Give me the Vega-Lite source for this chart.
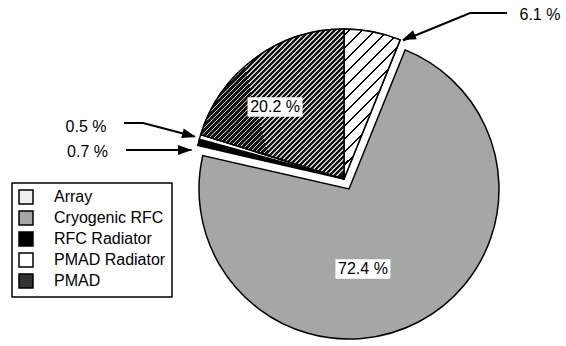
{
  "$schema": "https://vega.github.io/schema/vega-lite/v6.json",
  "width": 300,
  "height": 300,
  "autosize": {"type": "none"},
  "padding": {"left": 199, "top": 39, "right": 67, "bottom": 7},
  "background": "white",
  "config": {
    "view": {"stroke": null},
    "font": "Liberation Sans",
    "legend": {
      "strokeColor": "black",
      "strokeWidth": 1.5,
      "padding": 6,
      "fillColor": "white",
      "symbolType": "square",
      "symbolSize": 196,
      "symbolStrokeColor": "black",
      "symbolStrokeWidth": 1.5,
      "labelFont": "Liberation Sans",
      "labelFontSize": 16,
      "labelColor": "black",
      "labelOffset": 20,
      "rowPadding": 1,
      "labelLimit": 300
    }
  },
  "datasets": {
    "slices": [
      {"category": "Array", "value": 6.1, "order": 1, "group": "exploded"},
      {"category": "Cryogenic RFC", "value": 72.4, "order": 2, "group": "main"},
      {"category": "RFC Radiator", "value": 0.7, "order": 3, "group": "exploded"},
      {"category": "PMAD Radiator", "value": 0.5, "order": 4, "group": "exploded"},
      {"category": "PMAD", "value": 20.2, "order": 5, "group": "exploded"}
    ],
    "arrows": [
      {"label": "6.1 %", "step": 1, "x": 1.053, "y": 1.173},
      {"label": "6.1 %", "step": 2, "x": 0.807, "y": 1.173},
      {"label": "6.1 %", "step": 3, "x": 0.36, "y": 0.99},
      {"label": "0.5 %", "step": 1, "x": -1.5, "y": 0.44},
      {"label": "0.5 %", "step": 2, "x": -1.373, "y": 0.44},
      {"label": "0.5 %", "step": 3, "x": -1.03, "y": 0.35},
      {"label": "0.7 %", "step": 1, "x": -1.487, "y": 0.26},
      {"label": "0.7 %", "step": 2, "x": -1.05, "y": 0.26}
    ],
    "tips": [
      {"label": "6.1 %", "x": 0.353, "y": 0.993},
      {"label": "0.5 %", "x": -1.02, "y": 0.347},
      {"label": "0.7 %", "x": -1.047, "y": 0.26}
    ],
    "labels": [
      {"label": "6.1 %", "x": 1.273, "y": 1.16},
      {"label": "0.5 %", "x": -1.753, "y": 0.413},
      {"label": "0.7 %", "x": -1.743, "y": 0.247},
      {"label": "72.4 %", "x": 0.093, "y": -0.533},
      {"label": "20.2 %", "x": -0.493, "y": 0.547}
    ]
  },
  "layer": [
    {
      "data": {"name": "slices"},
      "transform": [
        {"stack": "value", "groupby": [], "sort": [{"field": "order", "order": "ascending"}], "as": ["v0", "v1"]}
      ],
      "layer": [
        {
          "transform": [{"filter": "datum.group === 'main'"}],
          "mark": {"type": "arc", "outerRadius": 150, "stroke": "black", "strokeWidth": 1.5},
          "encoding": {
            "theta": {"field": "v0", "type": "quantitative", "stack": null, "scale": {"domain": [0, 99.9]}},
            "theta2": {"field": "v1"},
            "color": {
              "field": "category",
              "type": "nominal",
              "scale": {
                "domain": ["Array", "Cryogenic RFC", "RFC Radiator", "PMAD Radiator", "PMAD"],
                "range": ["#eeeeee", "#a6a6a6", "#000000", "#ffffff", "#333333"]
              },
              "legend": {"title": null, "orient": "none", "legendX": -187, "legendY": 144}
            }
          }
        },
        {
          "transform": [{"filter": "datum.group === 'exploded'"}],
          "mark": {"type": "arc", "outerRadius": 150, "stroke": "black", "strokeWidth": 1.5, "xOffset": -5, "yOffset": -10},
          "encoding": {
            "theta": {"field": "v0", "type": "quantitative", "stack": null, "scale": {"domain": [0, 99.9]}},
            "theta2": {"field": "v1"},
            "color": {
              "field": "category",
              "type": "nominal",
              "scale": {
                "domain": ["Array", "Cryogenic RFC", "RFC Radiator", "PMAD Radiator", "PMAD"],
                "range": ["#eeeeee", "#a6a6a6", "#000000", "#ffffff", "#333333"]
              },
              "legend": {"title": null, "orient": "none", "legendX": -187, "legendY": 144}
            }
          }
        },
        {
          "transform": [{"filter": "datum.category === 'Array'"}],
          "mark": {
            "type": "arc", "outerRadius": 150, "stroke": "black", "strokeWidth": 1.5, "xOffset": -5, "yOffset": -10,
            "fill": {
              "gradient": "linear", "x1": 0, "y1": 0, "x2": 0.373, "y2": 1,
              "stops": [
                {"offset": 0, "color": "white"},
                {"offset": 0.03, "color": "white"}, {"offset": 0.03, "color": "black"}, {"offset": 0.046, "color": "black"}, {"offset": 0.046, "color": "white"},
                {"offset": 0.106, "color": "white"}, {"offset": 0.106, "color": "black"}, {"offset": 0.122, "color": "black"}, {"offset": 0.122, "color": "white"},
                {"offset": 0.182, "color": "white"}, {"offset": 0.182, "color": "black"}, {"offset": 0.198, "color": "black"}, {"offset": 0.198, "color": "white"},
                {"offset": 0.258, "color": "white"}, {"offset": 0.258, "color": "black"}, {"offset": 0.274, "color": "black"}, {"offset": 0.274, "color": "white"},
                {"offset": 0.334, "color": "white"}, {"offset": 0.334, "color": "black"}, {"offset": 0.35, "color": "black"}, {"offset": 0.35, "color": "white"},
                {"offset": 0.41, "color": "white"}, {"offset": 0.41, "color": "black"}, {"offset": 0.426, "color": "black"}, {"offset": 0.426, "color": "white"},
                {"offset": 0.486, "color": "white"}, {"offset": 0.486, "color": "black"}, {"offset": 0.502, "color": "black"}, {"offset": 0.502, "color": "white"},
                {"offset": 0.562, "color": "white"}, {"offset": 0.562, "color": "black"}, {"offset": 0.578, "color": "black"}, {"offset": 0.578, "color": "white"},
                {"offset": 0.638, "color": "white"}, {"offset": 0.638, "color": "black"}, {"offset": 0.654, "color": "black"}, {"offset": 0.654, "color": "white"},
                {"offset": 0.714, "color": "white"}, {"offset": 0.714, "color": "black"}, {"offset": 0.73, "color": "black"}, {"offset": 0.73, "color": "white"},
                {"offset": 0.79, "color": "white"}, {"offset": 0.79, "color": "black"}, {"offset": 0.806, "color": "black"}, {"offset": 0.806, "color": "white"},
                {"offset": 0.866, "color": "white"}, {"offset": 0.866, "color": "black"}, {"offset": 0.882, "color": "black"}, {"offset": 0.882, "color": "white"},
                {"offset": 0.942, "color": "white"}, {"offset": 0.942, "color": "black"}, {"offset": 0.958, "color": "black"}, {"offset": 0.958, "color": "white"},
                {"offset": 1, "color": "white"}
              ]
            }
          },
          "encoding": {
            "theta": {"field": "v0", "type": "quantitative", "stack": null, "scale": {"domain": [0, 99.9]}},
            "theta2": {"field": "v1"}
          }
        },
        {
          "transform": [{"filter": "datum.category === 'PMAD'"}],
          "mark": {
            "type": "arc", "outerRadius": 150, "stroke": "black", "strokeWidth": 1.5, "xOffset": -5, "yOffset": -10,
            "fill": {
              "gradient": "linear", "x1": 0, "y1": 0, "x2": 0.95, "y2": 1,
              "stops": [
                {"offset": 0, "color": "#111111"},
                {"offset": 0.005, "color": "#111111"}, {"offset": 0.005, "color": "#c8c8c8"}, {"offset": 0.011, "color": "#c8c8c8"}, {"offset": 0.011, "color": "#111111"},
                {"offset": 0.0225, "color": "#111111"}, {"offset": 0.0225, "color": "#c8c8c8"}, {"offset": 0.0285, "color": "#c8c8c8"}, {"offset": 0.0285, "color": "#111111"},
                {"offset": 0.04, "color": "#111111"}, {"offset": 0.04, "color": "#c8c8c8"}, {"offset": 0.046, "color": "#c8c8c8"}, {"offset": 0.046, "color": "#111111"},
                {"offset": 0.0575, "color": "#111111"}, {"offset": 0.0575, "color": "#c8c8c8"}, {"offset": 0.0635, "color": "#c8c8c8"}, {"offset": 0.0635, "color": "#111111"},
                {"offset": 0.075, "color": "#111111"}, {"offset": 0.075, "color": "#c8c8c8"}, {"offset": 0.081, "color": "#c8c8c8"}, {"offset": 0.081, "color": "#111111"},
                {"offset": 0.0925, "color": "#111111"}, {"offset": 0.0925, "color": "#c8c8c8"}, {"offset": 0.0985, "color": "#c8c8c8"}, {"offset": 0.0985, "color": "#111111"},
                {"offset": 0.11, "color": "#111111"}, {"offset": 0.11, "color": "#c8c8c8"}, {"offset": 0.116, "color": "#c8c8c8"}, {"offset": 0.116, "color": "#111111"},
                {"offset": 0.1275, "color": "#111111"}, {"offset": 0.1275, "color": "#c8c8c8"}, {"offset": 0.1335, "color": "#c8c8c8"}, {"offset": 0.1335, "color": "#111111"},
                {"offset": 0.145, "color": "#111111"}, {"offset": 0.145, "color": "#c8c8c8"}, {"offset": 0.151, "color": "#c8c8c8"}, {"offset": 0.151, "color": "#111111"},
                {"offset": 0.1625, "color": "#111111"}, {"offset": 0.1625, "color": "#c8c8c8"}, {"offset": 0.1685, "color": "#c8c8c8"}, {"offset": 0.1685, "color": "#111111"},
                {"offset": 0.18, "color": "#111111"}, {"offset": 0.18, "color": "#c8c8c8"}, {"offset": 0.186, "color": "#c8c8c8"}, {"offset": 0.186, "color": "#111111"},
                {"offset": 0.1975, "color": "#111111"}, {"offset": 0.1975, "color": "#c8c8c8"}, {"offset": 0.2035, "color": "#c8c8c8"}, {"offset": 0.2035, "color": "#111111"},
                {"offset": 0.215, "color": "#111111"}, {"offset": 0.215, "color": "#c8c8c8"}, {"offset": 0.221, "color": "#c8c8c8"}, {"offset": 0.221, "color": "#111111"},
                {"offset": 0.2325, "color": "#111111"}, {"offset": 0.2325, "color": "#c8c8c8"}, {"offset": 0.2385, "color": "#c8c8c8"}, {"offset": 0.2385, "color": "#111111"},
                {"offset": 0.25, "color": "#111111"}, {"offset": 0.25, "color": "#c8c8c8"}, {"offset": 0.256, "color": "#c8c8c8"}, {"offset": 0.256, "color": "#111111"},
                {"offset": 0.2675, "color": "#111111"}, {"offset": 0.2675, "color": "#c8c8c8"}, {"offset": 0.2735, "color": "#c8c8c8"}, {"offset": 0.2735, "color": "#111111"},
                {"offset": 0.285, "color": "#111111"}, {"offset": 0.285, "color": "#c8c8c8"}, {"offset": 0.291, "color": "#c8c8c8"}, {"offset": 0.291, "color": "#111111"},
                {"offset": 0.3025, "color": "#111111"}, {"offset": 0.3025, "color": "#c8c8c8"}, {"offset": 0.3085, "color": "#c8c8c8"}, {"offset": 0.3085, "color": "#111111"},
                {"offset": 0.32, "color": "#111111"}, {"offset": 0.32, "color": "#c8c8c8"}, {"offset": 0.326, "color": "#c8c8c8"}, {"offset": 0.326, "color": "#111111"},
                {"offset": 0.3375, "color": "#111111"}, {"offset": 0.3375, "color": "#c8c8c8"}, {"offset": 0.3435, "color": "#c8c8c8"}, {"offset": 0.3435, "color": "#111111"},
                {"offset": 0.355, "color": "#111111"}, {"offset": 0.355, "color": "#c8c8c8"}, {"offset": 0.361, "color": "#c8c8c8"}, {"offset": 0.361, "color": "#111111"},
                {"offset": 0.3725, "color": "#111111"}, {"offset": 0.3725, "color": "#c8c8c8"}, {"offset": 0.3785, "color": "#c8c8c8"}, {"offset": 0.3785, "color": "#111111"},
                {"offset": 0.39, "color": "#111111"}, {"offset": 0.39, "color": "#c8c8c8"}, {"offset": 0.396, "color": "#c8c8c8"}, {"offset": 0.396, "color": "#111111"},
                {"offset": 0.4075, "color": "#111111"}, {"offset": 0.4075, "color": "#c8c8c8"}, {"offset": 0.4135, "color": "#c8c8c8"}, {"offset": 0.4135, "color": "#111111"},
                {"offset": 0.425, "color": "#111111"}, {"offset": 0.425, "color": "#c8c8c8"}, {"offset": 0.431, "color": "#c8c8c8"}, {"offset": 0.431, "color": "#111111"},
                {"offset": 0.4425, "color": "#111111"}, {"offset": 0.4425, "color": "#c8c8c8"}, {"offset": 0.4485, "color": "#c8c8c8"}, {"offset": 0.4485, "color": "#111111"},
                {"offset": 0.46, "color": "#111111"}, {"offset": 0.46, "color": "#c8c8c8"}, {"offset": 0.466, "color": "#c8c8c8"}, {"offset": 0.466, "color": "#111111"},
                {"offset": 0.4775, "color": "#111111"}, {"offset": 0.4775, "color": "#c8c8c8"}, {"offset": 0.4835, "color": "#c8c8c8"}, {"offset": 0.4835, "color": "#111111"},
                {"offset": 0.495, "color": "#111111"}, {"offset": 0.495, "color": "#c8c8c8"}, {"offset": 0.501, "color": "#c8c8c8"}, {"offset": 0.501, "color": "#111111"},
                {"offset": 0.5125, "color": "#111111"}, {"offset": 0.5125, "color": "#c8c8c8"}, {"offset": 0.5185, "color": "#c8c8c8"}, {"offset": 0.5185, "color": "#111111"},
                {"offset": 0.53, "color": "#111111"}, {"offset": 0.53, "color": "#c8c8c8"}, {"offset": 0.536, "color": "#c8c8c8"}, {"offset": 0.536, "color": "#111111"},
                {"offset": 0.5475, "color": "#111111"}, {"offset": 0.5475, "color": "#c8c8c8"}, {"offset": 0.5535, "color": "#c8c8c8"}, {"offset": 0.5535, "color": "#111111"},
                {"offset": 0.565, "color": "#111111"}, {"offset": 0.565, "color": "#c8c8c8"}, {"offset": 0.571, "color": "#c8c8c8"}, {"offset": 0.571, "color": "#111111"},
                {"offset": 0.5825, "color": "#111111"}, {"offset": 0.5825, "color": "#c8c8c8"}, {"offset": 0.5885, "color": "#c8c8c8"}, {"offset": 0.5885, "color": "#111111"},
                {"offset": 0.6, "color": "#111111"}, {"offset": 0.6, "color": "#c8c8c8"}, {"offset": 0.606, "color": "#c8c8c8"}, {"offset": 0.606, "color": "#111111"},
                {"offset": 0.6175, "color": "#111111"}, {"offset": 0.6175, "color": "#c8c8c8"}, {"offset": 0.6235, "color": "#c8c8c8"}, {"offset": 0.6235, "color": "#111111"},
                {"offset": 0.635, "color": "#111111"}, {"offset": 0.635, "color": "#c8c8c8"}, {"offset": 0.641, "color": "#c8c8c8"}, {"offset": 0.641, "color": "#111111"},
                {"offset": 0.6525, "color": "#111111"}, {"offset": 0.6525, "color": "#c8c8c8"}, {"offset": 0.6585, "color": "#c8c8c8"}, {"offset": 0.6585, "color": "#111111"},
                {"offset": 0.67, "color": "#111111"}, {"offset": 0.67, "color": "#c8c8c8"}, {"offset": 0.676, "color": "#c8c8c8"}, {"offset": 0.676, "color": "#111111"},
                {"offset": 0.6875, "color": "#111111"}, {"offset": 0.6875, "color": "#c8c8c8"}, {"offset": 0.6935, "color": "#c8c8c8"}, {"offset": 0.6935, "color": "#111111"},
                {"offset": 0.705, "color": "#111111"}, {"offset": 0.705, "color": "#c8c8c8"}, {"offset": 0.711, "color": "#c8c8c8"}, {"offset": 0.711, "color": "#111111"},
                {"offset": 0.7225, "color": "#111111"}, {"offset": 0.7225, "color": "#c8c8c8"}, {"offset": 0.7285, "color": "#c8c8c8"}, {"offset": 0.7285, "color": "#111111"},
                {"offset": 0.74, "color": "#111111"}, {"offset": 0.74, "color": "#c8c8c8"}, {"offset": 0.746, "color": "#c8c8c8"}, {"offset": 0.746, "color": "#111111"},
                {"offset": 0.7575, "color": "#111111"}, {"offset": 0.7575, "color": "#c8c8c8"}, {"offset": 0.7635, "color": "#c8c8c8"}, {"offset": 0.7635, "color": "#111111"},
                {"offset": 0.775, "color": "#111111"}, {"offset": 0.775, "color": "#c8c8c8"}, {"offset": 0.781, "color": "#c8c8c8"}, {"offset": 0.781, "color": "#111111"},
                {"offset": 0.7925, "color": "#111111"}, {"offset": 0.7925, "color": "#c8c8c8"}, {"offset": 0.7985, "color": "#c8c8c8"}, {"offset": 0.7985, "color": "#111111"},
                {"offset": 0.81, "color": "#111111"}, {"offset": 0.81, "color": "#c8c8c8"}, {"offset": 0.816, "color": "#c8c8c8"}, {"offset": 0.816, "color": "#111111"},
                {"offset": 0.8275, "color": "#111111"}, {"offset": 0.8275, "color": "#c8c8c8"}, {"offset": 0.8335, "color": "#c8c8c8"}, {"offset": 0.8335, "color": "#111111"},
                {"offset": 0.845, "color": "#111111"}, {"offset": 0.845, "color": "#c8c8c8"}, {"offset": 0.851, "color": "#c8c8c8"}, {"offset": 0.851, "color": "#111111"},
                {"offset": 0.8625, "color": "#111111"}, {"offset": 0.8625, "color": "#c8c8c8"}, {"offset": 0.8685, "color": "#c8c8c8"}, {"offset": 0.8685, "color": "#111111"},
                {"offset": 0.88, "color": "#111111"}, {"offset": 0.88, "color": "#c8c8c8"}, {"offset": 0.886, "color": "#c8c8c8"}, {"offset": 0.886, "color": "#111111"},
                {"offset": 0.8975, "color": "#111111"}, {"offset": 0.8975, "color": "#c8c8c8"}, {"offset": 0.9035, "color": "#c8c8c8"}, {"offset": 0.9035, "color": "#111111"},
                {"offset": 0.915, "color": "#111111"}, {"offset": 0.915, "color": "#c8c8c8"}, {"offset": 0.921, "color": "#c8c8c8"}, {"offset": 0.921, "color": "#111111"},
                {"offset": 0.9325, "color": "#111111"}, {"offset": 0.9325, "color": "#c8c8c8"}, {"offset": 0.9385, "color": "#c8c8c8"}, {"offset": 0.9385, "color": "#111111"},
                {"offset": 0.95, "color": "#111111"}, {"offset": 0.95, "color": "#c8c8c8"}, {"offset": 0.956, "color": "#c8c8c8"}, {"offset": 0.956, "color": "#111111"},
                {"offset": 0.9675, "color": "#111111"}, {"offset": 0.9675, "color": "#c8c8c8"}, {"offset": 0.9735, "color": "#c8c8c8"}, {"offset": 0.9735, "color": "#111111"},
                {"offset": 0.985, "color": "#111111"}, {"offset": 0.985, "color": "#c8c8c8"}, {"offset": 0.991, "color": "#c8c8c8"}, {"offset": 0.991, "color": "#111111"},
                {"offset": 1, "color": "#111111"}
              ]
            }
          },
          "encoding": {
            "theta": {"field": "v0", "type": "quantitative", "stack": null, "scale": {"domain": [0, 99.9]}},
            "theta2": {"field": "v1"}
          }
        }
      ]
    },
    {
      "layer": [
        {
          "data": {"name": "arrows"},
          "mark": {"type": "line", "color": "black", "strokeWidth": 2},
          "encoding": {
            "x": {"field": "x", "type": "quantitative", "scale": {"domain": [-1, 1], "nice": false, "zero": false}, "axis": null},
            "y": {"field": "y", "type": "quantitative", "scale": {"domain": [-1, 1], "nice": false, "zero": false}, "axis": null},
            "detail": {"field": "label"},
            "order": {"field": "step"}
          }
        },
        {
          "data": {"name": "tips"},
          "transform": [{"filter": "datum.label === '6.1 %'"}],
          "mark": {"type": "point", "shape": "M0,0L-2,-0.7L-2,0.7Z", "filled": true, "color": "black", "opacity": 1, "size": 196, "angle": 158},
          "encoding": {
            "x": {"field": "x", "type": "quantitative", "scale": {"domain": [-1, 1], "nice": false, "zero": false}, "axis": null},
            "y": {"field": "y", "type": "quantitative", "scale": {"domain": [-1, 1], "nice": false, "zero": false}, "axis": null}
          }
        },
        {
          "data": {"name": "tips"},
          "transform": [{"filter": "datum.label === '0.5 %'"}],
          "mark": {"type": "point", "shape": "M0,0L-2,-0.7L-2,0.7Z", "filled": true, "color": "black", "opacity": 1, "size": 196, "angle": 15},
          "encoding": {
            "x": {"field": "x", "type": "quantitative", "scale": {"domain": [-1, 1], "nice": false, "zero": false}, "axis": null},
            "y": {"field": "y", "type": "quantitative", "scale": {"domain": [-1, 1], "nice": false, "zero": false}, "axis": null}
          }
        },
        {
          "data": {"name": "tips"},
          "transform": [{"filter": "datum.label === '0.7 %'"}],
          "mark": {"type": "point", "shape": "M0,0L-2,-0.7L-2,0.7Z", "filled": true, "color": "black", "opacity": 1, "size": 196, "angle": 0},
          "encoding": {
            "x": {"field": "x", "type": "quantitative", "scale": {"domain": [-1, 1], "nice": false, "zero": false}, "axis": null},
            "y": {"field": "y", "type": "quantitative", "scale": {"domain": [-1, 1], "nice": false, "zero": false}, "axis": null}
          }
        },
        {
          "data": {"name": "labels"},
          "transform": [{"filter": "datum.label === '72.4 %' || datum.label === '20.2 %'"}],
          "mark": {"type": "point", "shape": "M-1.4,-0.5H1.4V0.5H-1.4Z", "filled": true, "color": "white", "opacity": 1, "size": 1544},
          "encoding": {
            "x": {"field": "x", "type": "quantitative", "scale": {"domain": [-1, 1], "nice": false, "zero": false}, "axis": null},
            "y": {"field": "y", "type": "quantitative", "scale": {"domain": [-1, 1], "nice": false, "zero": false}, "axis": null}
          }
        },
        {
          "data": {"name": "labels"},
          "mark": {"type": "text", "fontSize": 16, "font": "Liberation Sans", "color": "black", "align": "center", "baseline": "middle"},
          "encoding": {
            "x": {"field": "x", "type": "quantitative", "scale": {"domain": [-1, 1], "nice": false, "zero": false}, "axis": null},
            "y": {"field": "y", "type": "quantitative", "scale": {"domain": [-1, 1], "nice": false, "zero": false}, "axis": null},
            "text": {"field": "label"}
          }
        }
      ]
    }
  ]
}
